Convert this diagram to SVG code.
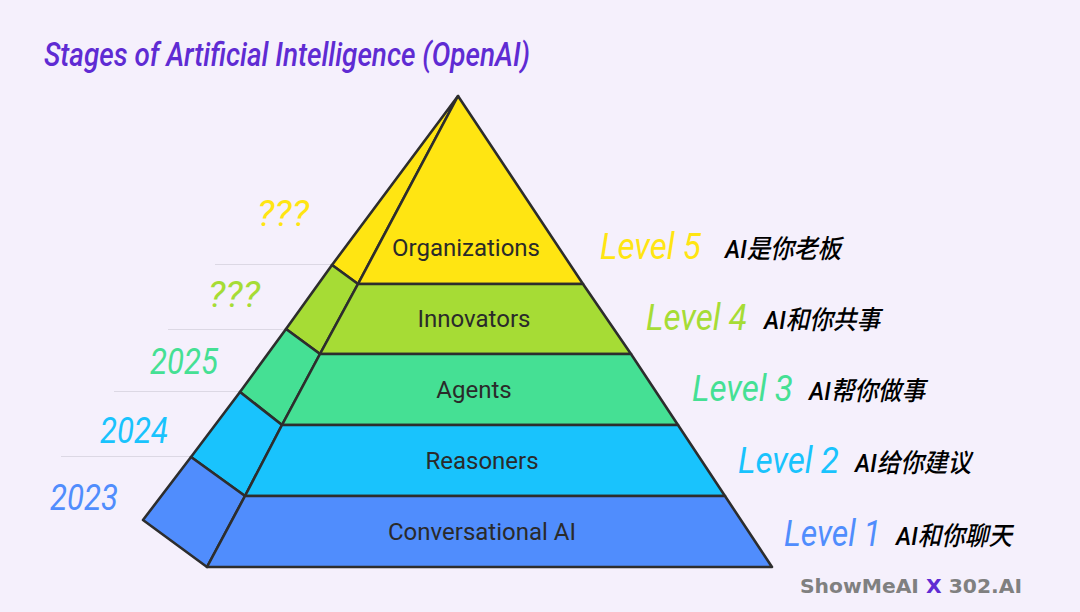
<svg xmlns="http://www.w3.org/2000/svg" width="1080" height="612" viewBox="0 0 1080 612">
<style>
.seg{stroke:#2d2d2d;stroke-width:2.6;stroke-linejoin:round}
.tick{stroke:#dcd8e4;stroke-width:1;fill:none}
.name{font-family:Roboto,"Liberation Sans",sans-serif;font-size:24px;fill:#2a2a2a;text-anchor:middle}
.c{font-family:Roboto,"Liberation Sans",sans-serif;font-style:italic;font-size:37px}
.d{font-family:Roboto,"Noto Sans CJK SC",sans-serif;font-style:italic;font-weight:500;font-size:26px;fill:#000}
.y5{fill:#ffe512}.y4{fill:#a6dc35}.y3{fill:#45e094}.y2{fill:#19c3fd}.y1{fill:#508dfd}
</style>
<rect width="1080" height="612" fill="#f5f0fc"/>
<text x="44" y="66" class="c" textLength="486" lengthAdjust="spacingAndGlyphs" font-size="34" style="font-size:34px;font-weight:500;fill:#5f2bd3">Stages of Artificial Intelligence (OpenAI)</text>
<g id="connectors">
<line class="tick" x1="215" y1="264.500" x2="332" y2="264.500"/>
<line class="tick" x1="168" y1="329.500" x2="286" y2="329.500"/>
<line class="tick" x1="114" y1="391.500" x2="240" y2="391.500"/>
<line class="tick" x1="61" y1="456.500" x2="191" y2="456.500"/>
</g>
<g id="level5">
<polygon class="seg y5" points="458,96 332,265 358,284"/>
<polygon class="seg y5" points="458,96 358,284 583,284"/>
<text class="name" x="466" y="256">Organizations</text>
<text class="c y5" x="600" y="259" textLength="101" lengthAdjust="spacingAndGlyphs">Level 5</text>
<text class="d" x="725" y="258" textLength="116" lengthAdjust="spacingAndGlyphs">AI是你老板</text>
<text class="c y5" x="257" y="226" textLength="52" lengthAdjust="spacingAndGlyphs">???</text>
</g>
<g id="level4">
<polygon class="seg y4" points="332,265 286,329 320,354 358,284"/>
<polygon class="seg y4" points="358,284 583,284 631,354 320,354"/>
<text class="name" x="474" y="327">Innovators</text>
<text class="c y4" x="646" y="330" textLength="101" lengthAdjust="spacingAndGlyphs">Level 4</text>
<text class="d" x="764" y="329" textLength="116" lengthAdjust="spacingAndGlyphs">AI和你共事</text>
<text class="c y4" x="208" y="307" textLength="52" lengthAdjust="spacingAndGlyphs">???</text>
</g>
<g id="level3">
<polygon class="seg y3" points="286,329 240,392 282,425 320,354"/>
<polygon class="seg y3" points="320,354 631,354 678,425 282,425"/>
<text class="name" x="474" y="398">Agents</text>
<text class="c y3" x="692" y="401" textLength="101" lengthAdjust="spacingAndGlyphs">Level 3</text>
<text class="d" x="809" y="400" textLength="116" lengthAdjust="spacingAndGlyphs">AI帮你做事</text>
<text class="c y3" x="150" y="374" textLength="68" lengthAdjust="spacingAndGlyphs">2025</text>
</g>
<g id="level2">
<polygon class="seg y2" points="240,392 191,457 245,496 282,425"/>
<polygon class="seg y2" points="282,425 678,425 725,496 245,496"/>
<text class="name" x="482" y="469">Reasoners</text>
<text class="c y2" x="738" y="473" textLength="101" lengthAdjust="spacingAndGlyphs">Level 2</text>
<text class="d" x="855" y="472" textLength="116" lengthAdjust="spacingAndGlyphs">AI给你建议</text>
<text class="c y2" x="100" y="443" textLength="68" lengthAdjust="spacingAndGlyphs">2024</text>
</g>
<g id="level1">
<polygon class="seg y1" points="191,457 143,520 207,567 245,496"/>
<polygon class="seg y1" points="245,496 725,496 772,567 207,567"/>
<text class="name" x="482" y="540">Conversational AI</text>
<text class="c y1" x="784" y="546" textLength="97" lengthAdjust="spacingAndGlyphs">Level 1</text>
<text class="d" x="896" y="545" textLength="116" lengthAdjust="spacingAndGlyphs">AI和你聊天</text>
<text class="c y1" x="50" y="510" textLength="68" lengthAdjust="spacingAndGlyphs">2023</text>
</g>
<g id="brand">
<text x="800" y="593" style="font-family:'DejaVu Sans',sans-serif;font-weight:700;font-size:19px;fill:#808080" textLength="222" lengthAdjust="spacingAndGlyphs">ShowMeAI <tspan fill="#5f2bd3">X</tspan> 302.AI</text>
</g>
</svg>
